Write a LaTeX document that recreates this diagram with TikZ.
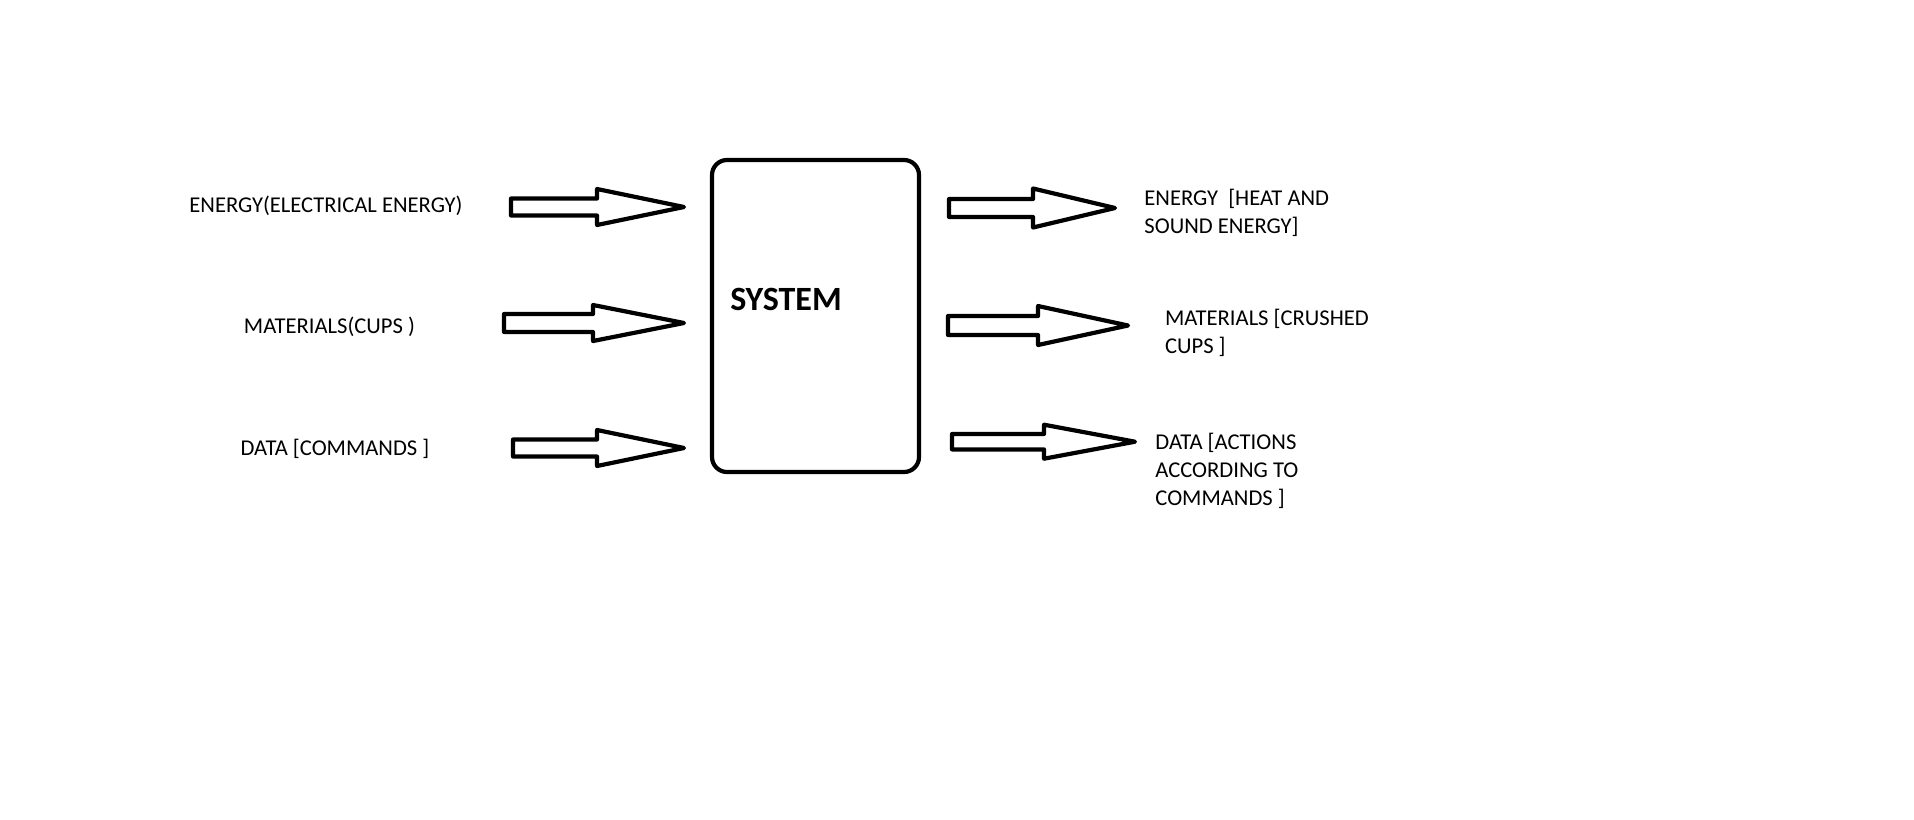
\documentclass[tikz,border=0pt]{standalone}
\usepackage{fontspec}
\setmainfont{Carlito}
\usetikzlibrary{positioning}
\tikzset{
  label/.style={
    font=\fontsize{11.3}{14}\selectfont,
    inner sep=0pt
  },
  outlabel/.style={
    label,
    align=left,
    anchor=west
  },
  sysbox/.style={
    draw,
    line width=2.1pt,
    rounded corners=7.5pt,
    minimum width=103.5pt,
    minimum height=156pt
  },
  title/.style={
    font=\fontsize{17}{20}\selectfont\bfseries,
    inner sep=0pt
  },
  pics/hollow arrow/.style n args={4}{
    code={
      \draw[line width=2.1pt, line join=round, fill=white]
        (0,-#3) -- ++(#1,0) -- ++(0,#3-#4) -- ++(#2,#4)
        -- ++(-#2,#4) -- ++(0,#3-#4) -- ++(-#1,0) -- cycle;
    }
  }
}
\begin{document}
\begin{tikzpicture}[x=0.5pt, y=-0.5pt]
    \useasboundingbox (0,0) rectangle (1914,819);

    % system block
    \node[sysbox] (sys) at (815.5,316) {};
    \node[title] (systitle) at (786,299) {SYSTEM};

    % inputs
    \node[label] (inenergy) at (326,206) {ENERGY(ELECTRICAL ENERGY)};
    \node[label] (inmat) at (329.5,327) {MATERIALS(CUPS )};
    \node[label] (indata) at (335,449) {DATA [COMMANDS ]};

    \pic (arrin1) at (511,207) {hollow arrow={86}{87}{8.5}{18}};
    \pic (arrin2) at (504,323) {hollow arrow={89}{91}{9}{18}};
    \pic (arrin3) at (513,448) {hollow arrow={84}{87}{8.5}{18}};

    % outputs
    \pic (arrout1) at (949,208) {hollow arrow={84}{82}{9}{19.5}};
    \pic (arrout2) at (948,325.5) {hollow arrow={90}{90}{9.5}{19.5}};
    \pic (arrout3) at (952,441.7) {hollow arrow={92}{91}{7.7}{17}};

    \node[outlabel] (outenergy) at (1144,212.5) {ENERGY \ [HEAT AND\\SOUND ENERGY]};
    \node[outlabel] (outmat) at (1164.6,332.5) {MATERIALS [CRUSHED\\CUPS ]};
    \node[outlabel] (outdata) at (1155,470.5) {DATA [ACTIONS\\ACCORDING TO\\COMMANDS ]};
\end{tikzpicture}
\end{document}
